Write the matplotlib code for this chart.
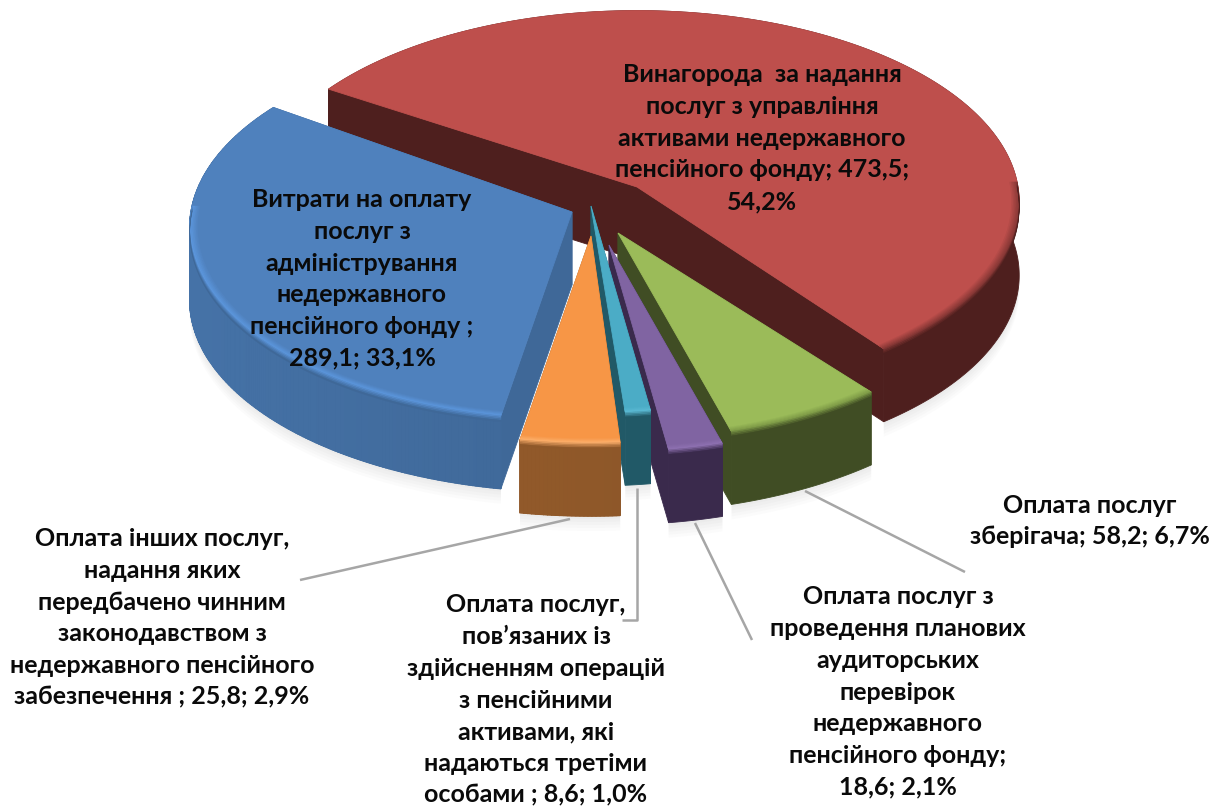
import numpy as np
import matplotlib
matplotlib.use("Agg")
import matplotlib.pyplot as plt
from matplotlib.colors import to_rgb

# ---- data ----
names = ["fee", "custody", "audit", "ops", "other", "admin"]
values = [473.5, 58.2, 18.6, 8.6, 25.8, 289.1]
labels = [
    "Винагорода  за надання\nпослуг з управління\nактивами недержавного\nпенсійного фонду; 473,5;\n54,2%",
    "Оплата послуг\nзберігача; 58,2; 6,7%",
    "Оплата послуг з\nпроведення планових\nаудиторських\nперевірок\nнедержавного\nпенсійного фонду;\n18,6; 2,1%",
    "Оплата послуг,\nпов’язаних із\nздійсненням операцій\nз пенсійними\nактивами, які\nнадаються третіми\nособами ; 8,6; 1,0%",
    "Оплата інших послуг,\nнадання яких\nпередбачено чинним\nзаконодавством з\nнедержавного пенсійного\nзабезпечення ; 25,8; 2,9%",
    "Витрати на оплату\nпослуг з\nадміністрування\nнедержавного\nпенсійного фонду ;\n289,1; 33,1%",
]

# ---- styling / geometry ----
top_cols = ["#BE4F4C", "#9BBB59", "#8064A2", "#4BACC6", "#F79646", "#4F81BD"]
side_cols = ["#4E1F1E", "#404D24", "#3A2A4C", "#215967", "#8F5829", "#3F6898"]
rim_cols = ["#8A3937", "#7F9C48", "#8F72B2", "#5BBAD4", "#FDB06C", "#5C96DC"]
shift_x = [28, 9, 0, -18, -18, -37]
shift_y = [-15, 31, 43, 4, 34, 10]
edge_trim_start = [-2.6, 1.4, 0, 0, 0.7, 4]
edge_trim_end = [2.6, 0, 0, 0, 4, 0]
label_xy = [(762, 138), (1090, 521), (898, 692), (536, 700), (162, 618), (362, 279)]
leaders = [
    ([805, 965], [491, 572]),
    ([695, 752], [523, 640]),
    ([637, 637, 622], [488, 620, 620]),
    ([570, 300], [519, 580]),
]
BASE = (609, 202)
R, K, P, H = 381, 0.5, 0.08, 73
START = -55.0
draw_order = [0, 5, 1, 2, 3, 4]

plt.rcParams["font.family"] = ["Lato", "DejaVu Sans"]
fig = plt.figure(figsize=(12.22, 8.07), dpi=100)
ax = fig.add_axes([0, 0, 1, 1])
ax.set_xlim(0, 1222)
ax.set_ylim(807, 0)
ax.axis("off")


def project(th, rad, ox, oy, z=0.0):
    t = np.radians(th)
    s = 1 / (1 + P * np.cos(t) * rad)
    return ox + R * rad * np.sin(t) * s, oy - R * K * rad * np.cos(t) * s + z


def mix(a, b, f):
    a, b = np.array(to_rgb(a)), np.array(to_rgb(b))
    return tuple(a + (b - a) * f)


def poly(x, y, c, z, a=1.0, lw=0.6):
    ax.fill(x, y, color=c, zorder=z, alpha=a, lw=lw)


total = sum(values)
spans = np.array(values) / total * 360
starts = START + np.concatenate([[0], np.cumsum(spans)[:-1]])

for rank, i in enumerate(draw_order):
    a0 = starts[i] + edge_trim_start[i]
    a1 = starts[i] + spans[i] + edge_trim_end[i]
    ox, oy = BASE[0] + shift_x[i], BASE[1] + shift_y[i]
    th = np.linspace(a0, a1, max(int(a1 - a0) * 2, 12))
    rx, ry = project(th, 1.0, ox, oy)
    bx, by = project(th, 1.0, ox, oy, H)
    z0 = rank * 10 + 10

    # soft shadow below the slice
    for d in range(3, 18, 3):
        poly(np.r_[rx, bx[::-1]], np.r_[ry + d * 0.2, by[::-1] + d], "#808080", 1, a=0.028, lw=0)

    # inner faces
    for ang in (a0, a1):
        ex, ey = project(ang, 1.0, ox, oy)
        poly([ox, ex, ex, ox], [oy, ey, ey + H, oy + H], side_cols[i], z0)

    # outer wall, shaded a little across the front
    poly(np.r_[rx, bx[::-1]], np.r_[ry, by[::-1]], side_cols[i], z0 + 1)
    if i in (4, 5):
        for j in range(len(th) - 1):
            f = 1 - 0.10 * np.sin(np.radians(th[j]))
            c = tuple(np.clip(np.array(to_rgb(side_cols[i])) * f, 0, 1))
            poly([rx[j], rx[j + 1], bx[j + 1], bx[j]], [ry[j], ry[j + 1], by[j + 1], by[j]], c, z0 + 1, lw=1.0)

    # top face
    poly(np.r_[ox, rx], np.r_[oy, ry], top_cols[i], z0 + 2)

    # bevel along the visible front of the rim
    vis = th[(np.mod(th, 360) > 88) & (np.mod(th, 360) < 272)]
    if len(vis) > 1:
        steps = np.linspace(0.98, 1.0, 6)
        for k in range(5):
            ix, iy = project(vis, steps[k], ox, oy)
            ox2, oy2 = project(vis, steps[k + 1], ox, oy)
            c = mix(top_cols[i], rim_cols[i], (k + 1) / 5)
            poly(np.r_[ix, ox2[::-1]], np.r_[iy, oy2[::-1]], c, z0 + 3, lw=0.3)
        for k in range(4):
            c = mix(rim_cols[i], side_cols[i], (k + 1) / 4)
            ix, iy = project(vis, 1.0, ox, oy, k * 1.5)
            ox2, oy2 = project(vis, 1.0, ox, oy, (k + 1) * 1.5)
            poly(np.r_[ix, ox2[::-1]], np.r_[iy, oy2[::-1]], c, z0 + 3, lw=0.3)

for xs, ys in leaders:
    ax.plot(xs, ys, color="#A6A6A6", lw=1.8, zorder=200, solid_capstyle="butt")

for txt, (x, y) in zip(labels, label_xy):
    ax.text(x, y, txt, ha="center", va="center", fontsize=18, fontweight="bold",
            color="#0A0A0A", linespacing=1.46, zorder=300)

fig.savefig("out.png", dpi=100, facecolor="white")
